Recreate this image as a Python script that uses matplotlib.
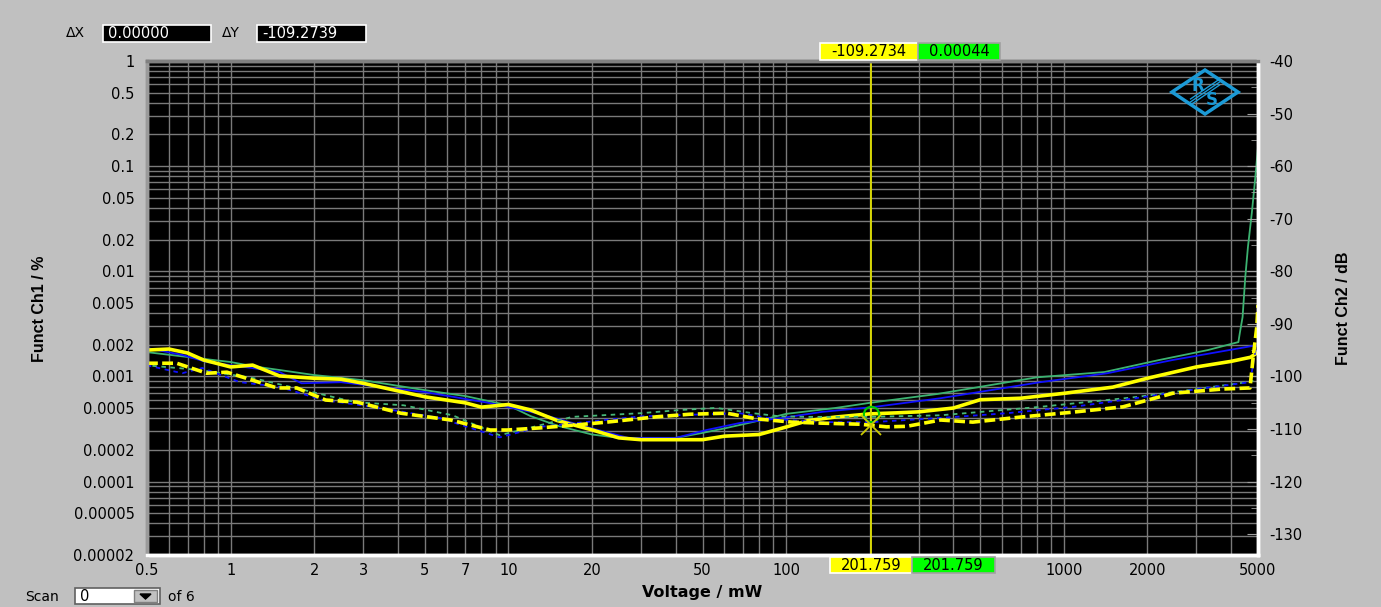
import matplotlib
matplotlib.use("Agg")
from matplotlib import pyplot as plt
from matplotlib.patches import Rectangle, Polygon
from matplotlib.lines import Line2D
from matplotlib.ticker import FixedLocator, LogLocator, NullFormatter

plt.rcParams['axes.unicode_minus'] = False
plt.rcParams['font.family'] = ['DejaVu Sans']

# ---- Ch1 (Funct Ch1 / %) ----
ch1_yel_x = [0.5, 0.6, 0.7, 0.8, 1, 1.2, 1.5, 2, 2.5, 3, 5, 7, 8, 10, 12, 15, 20, 25, 30, 40, 50,
             60, 80, 100, 120, 150, 200, 250, 300, 400, 500, 700, 1000, 1500, 2000, 3000, 4000, 4700, 5000]
ch1_yel_y = [0.00178, 0.00182, 0.00167, 0.00143, 0.00123, 0.00128, 0.00101, 0.00096, 0.00094, 0.00086,
             0.00064, 0.00056, 0.00051, 0.00054, 0.00048, 0.00038, 0.00031, 0.00026, 0.00025, 0.00025,
             0.00025, 0.00027, 0.00028, 0.00033, 0.00038, 0.00041, 0.00044, 0.00045, 0.00046, 0.00050,
             0.00060, 0.00062, 0.00069, 0.00079, 0.00096, 0.00123, 0.00139, 0.00152, 0.00170]

ch1_grn_x = [0.5, 0.7, 1, 1.2, 1.5, 2, 3, 5, 7, 10, 12, 15, 20, 25, 40, 50, 60, 80, 100, 150,
             200, 350, 800, 1400, 2200, 3300, 4250, 4300, 4400, 4500, 4600, 4750, 4880, 5000]
ch1_grn_y = [0.00170, 0.00153, 0.00137, 0.00125, 0.00115, 0.00103, 0.00092, 0.00074, 0.00065, 0.00053,
             0.00042, 0.00034, 0.00028, 0.00026, 0.00026, 0.00029, 0.00032, 0.00038, 0.00044, 0.00050,
             0.00056, 0.00068, 0.00098, 0.00110, 0.00143, 0.00178, 0.00212, 0.00258, 0.00367, 0.00881,
             0.0170, 0.0358, 0.0738, 0.152]

ch1_blu_x = [0.5, 0.67, 0.82, 1.2, 1.5, 1.8, 2.5, 5, 8.5, 13, 20, 27, 40, 52, 68, 95, 135, 205,
             360, 820, 1430, 2460, 5000]
ch1_blu_y = [0.00186, 0.00160, 0.00137, 0.00120, 0.00110, 0.00086, 0.00088, 0.00071, 0.00056, 0.00044,
             0.00032, 0.00026, 0.00026, 0.00031, 0.00036, 0.00040, 0.00046, 0.00051, 0.00062, 0.00088,
             0.00107, 0.00143, 0.00199]

# ---- Ch2 (Funct Ch2 / dB) ----
ch2_yel_x = [0.5, 0.64, 0.82, 0.97, 1.47, 1.73, 2.2, 2.85, 4.1, 6.2, 8.6, 9.9, 13, 17, 22.6, 34, 45,
             61, 79, 105, 135, 185, 230, 272, 360, 470, 710, 1080, 1630, 2470, 3740, 4680, 4800, 4950, 5000]
ch2_yel_y = [-97.5, -97.5, -99.4, -99.2, -102.2, -102.2, -104.5, -104.9, -107.0, -108.3, -110.2, -110.2,
             -109.8, -109.3, -108.7, -107.7, -107.2, -107.0, -108.1, -108.7, -108.9, -109.1, -109.6,
             -109.5, -108.3, -108.7, -107.7, -106.8, -105.8, -103.2, -102.4, -102.2, -96.5, -90.6, -86.4]

ch2_blu_x = [0.5, 0.67, 0.79, 1.08, 1.5, 2.15, 3.26, 5.65, 9.3, 13, 30, 68, 90, 135, 205, 360, 625,
             1080, 1840, 3230, 4680, 4950]
ch2_blu_y = [-97.9, -99.4, -98.4, -101.1, -102.0, -104.5, -105.8, -107.9, -111.6, -109.6, -107.6,
             -107.0, -108.1, -108.7, -108.7, -107.9, -107.0, -105.8, -104.1, -102.2, -101.1, -93.7]

ch2_grn_x = [0.5, 0.78, 1.2, 2.05, 2.8, 4.2, 6.3, 9.3, 13, 17, 30, 41.5, 56, 76, 95, 119, 200, 360,
             820, 1840, 4300, 5000]
ch2_grn_y = [-97.9, -98.8, -100.3, -103.2, -104.9, -105.5, -107.4, -111.2, -109.3, -107.7, -107.0,
             -106.4, -106.0, -107.0, -107.6, -107.7, -107.7, -107.4, -105.8, -103.9, -101.3, -100.7]

# ticks
x_ticks = [0.5, 1, 2, 3, 5, 7, 10, 20, 50, 100, 1000, 2000, 5000]
x_labels = ["0.5", "1", "2", "3", "5", "7", "10", "20", "50", "100", "1000", "2000", "5000"]
y1_ticks = [1, 0.5, 0.2, 0.1, 0.05, 0.02, 0.01, 0.005, 0.002, 0.001, 0.0005, 0.0002, 0.0001, 0.00005, 0.00002]
y1_labels = ["1", "0.5", "0.2", "0.1", "0.05", "0.02", "0.01", "0.005", "0.002", "0.001", "0.0005",
             "0.0002", "0.0001", "0.00005", "0.00002"]
y2_ticks = [-40, -50, -60, -70, -80, -90, -100, -110, -120, -130]

cursor_x = 201.759
cursor_ch1 = 0.00044
cursor_ch2 = -109.2734

W, H = 1381, 607
BG = '#c0c0c0'
YEL = '#ffff00'


def fx(x):
    return x / W


def fy(y):
    return 1 - y / H


fig = plt.figure(figsize=(W / 100, H / 100), dpi=100, facecolor=BG)
ax = fig.add_axes([fx(147), fy(555), fx(1258) - fx(147), fy(61) - fy(555)])
ax.set_facecolor('black')
ax.set_xscale('log')
ax.set_yscale('log')
ax.set_xlim(0.5, 5000)
ax.set_ylim(2e-5, 1)

ax.xaxis.set_major_locator(FixedLocator(x_ticks))
ax.set_xticklabels(x_labels)
ax.xaxis.set_minor_locator(LogLocator(base=10, subs=range(1, 10), numticks=60))
ax.xaxis.set_minor_formatter(NullFormatter())
ax.yaxis.set_major_locator(FixedLocator(y1_ticks))
ax.set_yticklabels(y1_labels)
ax.yaxis.set_minor_locator(LogLocator(base=10, subs=range(1, 10), numticks=60))
ax.yaxis.set_minor_formatter(NullFormatter())
ax.tick_params(which='both', length=0, labelsize=10.5, colors='black')
ax.tick_params(axis='y', pad=9)
ax.tick_params(axis='x', pad=6)
ax.grid(which='both', color='#7a7a7a', lw=1.0)
ax.set_axisbelow(True)

ax.plot(ch1_grn_x, ch1_grn_y, color='#3cb371', lw=1.3)
ax.plot(ch1_blu_x, ch1_blu_y, color='#1010ff', lw=1.3)
ax.plot(ch1_yel_x, ch1_yel_y, color=YEL, lw=2.6)
ax.axvline(cursor_x, color='#e0e000', lw=1.3)
ax.plot(cursor_x, cursor_ch1, 'o', mfc='none', mec='#00c800', ms=11, mew=1.6)

ax2 = ax.twinx()
ax2.set_ylim(20 * -6.69897, -40)
ax2.yaxis.set_major_locator(FixedLocator(y2_ticks))
ax2.set_yticklabels([str(v) for v in y2_ticks])
ax2.yaxis.set_minor_locator(FixedLocator(list(range(-130, -40, 5))))
ax2.tick_params(axis='y', which='major', direction='in', length=8, color='#a0a0a0',
                labelsize=10.5, pad=8)
ax2.tick_params(axis='y', which='minor', direction='in', length=5, color='#a0a0a0')

ax2.plot(ch2_grn_x, ch2_grn_y, color='#48b878', lw=1.3, ls=(2, (2.5, 2.5)))
ax2.plot(ch2_blu_x, ch2_blu_y, color='#1010ff', lw=1.3, ls=(0, (2.5, 2.5)))
ax2.plot(ch2_yel_x, ch2_yel_y, color=YEL, lw=2.6, ls=(0, (3, 1.2)))
ax2.plot(cursor_x, cursor_ch2, 'x', color='#c8c800', ms=15, mew=1.3)

for a in (ax, ax2):
    a.spines['left'].set_color('#9a9a9a')
    a.spines['top'].set_color('#808080')
    a.spines['right'].set_color('white')
    a.spines['bottom'].set_color('white')
    for s in a.spines.values():
        s.set_linewidth(2.5)

# R&S logo
LC = '#1b9ad6'
cx, cy, hw, hh = 0.9523, 0.9372, 0.0297, 0.0445
ax2.add_patch(Polygon([[cx - hw, cy], [cx, cy + hh], [cx + hw, cy], [cx, cy - hh]], closed=True,
                      fill=False, ec=LC, lw=2.5, transform=ax2.transAxes, zorder=6))
for d in (-0.004, 0, 0.004):
    ax2.add_line(Line2D([cx - 0.013, cx + 0.013], [cy - 0.02 + d * 1.5, cy + 0.02 + d * 1.5],
                        color=LC, lw=1, transform=ax2.transAxes, zorder=6))
ax2.text(cx - 0.006, cy + 0.012, "R", color=LC, fontsize=12, fontweight='bold', ha='center',
         va='center', transform=ax2.transAxes, zorder=7)
ax2.text(cx + 0.006, cy - 0.016, "S", color=LC, fontsize=12, fontweight='bold', ha='center',
         va='center', transform=ax2.transAxes, zorder=7)

# axis titles
narrow = ['Liberation Sans Narrow', 'Liberation Sans', 'DejaVu Sans']
fig.text(fx(39), fy(309), "Funct Ch1 / %", rotation=90, ha='center', va='center', fontsize=11.5,
         fontweight='bold', family=narrow)
fig.text(fx(1343), fy(308), "Funct Ch2 / dB", rotation=90, ha='center', va='center', fontsize=11.5,
         fontweight='bold', family=narrow)
fig.text(fx(702), fy(593), "Voltage / mW", ha='center', va='center', fontsize=11.5, fontweight='bold')


def box(x0, y0, x1, y1, fc, txt, tc, ha='center', ec='#808080'):
    fig.add_artist(Rectangle((fx(x0), fy(y1)), fx(x1) - fx(x0), fy(y0) - fy(y1), fc=fc, ec=ec,
                             lw=1.2, transform=fig.transFigure, zorder=5))
    if ha == 'center':
        tx = (x0 + x1) / 2
    else:
        tx = x0 + 5
    fig.text(fx(tx), fy((y0 + y1) / 2 + 0.5), txt, color=tc, ha=ha, va='center', fontsize=10.5,
             zorder=6)


# delta readout
fig.text(fx(66), fy(33), "\u0394X", fontsize=10, va='center', ha='left')
box(103, 25, 211, 42, 'black', "0.00000", 'white', ha='left', ec='white')
fig.text(fx(222), fy(33), "\u0394Y", fontsize=10, va='center', ha='left')
box(257, 25, 366, 42, 'black', "-109.2739", 'white', ha='left', ec='white')

# cursor readouts
box(820, 43, 918, 60, YEL, "-109.2734", 'black', ec='white')
box(918, 43, 1000, 60, '#00ff00', "0.00044", 'black', ec='#a0a0a0')
box(830, 557, 912, 573, YEL, "201.759", 'black', ec='white')
box(912, 557, 995, 573, '#00ff00', "201.759", 'black', ec='#a0a0a0')

# scan selector
fig.text(fx(25), fy(597), "Scan", fontsize=10, va='center', ha='left')
box(75, 588, 160, 604, 'white', "0", 'black', ha='left', ec='#606060')
fig.add_artist(Rectangle((fx(134), fy(602)), fx(157) - fx(134), fy(590) - fy(602), fc=BG, ec='#808080',
                         lw=1, transform=fig.transFigure, zorder=7))
fig.add_artist(Polygon([[fx(140), fy(594)], [fx(151), fy(594)], [fx(145.5), fy(599)]], closed=True,
                       fc='black', ec='black', transform=fig.transFigure, zorder=8))
fig.text(fx(168), fy(597), "of 6", fontsize=10, va='center', ha='left')

fig.savefig("out.png", dpi=100, facecolor=BG)
